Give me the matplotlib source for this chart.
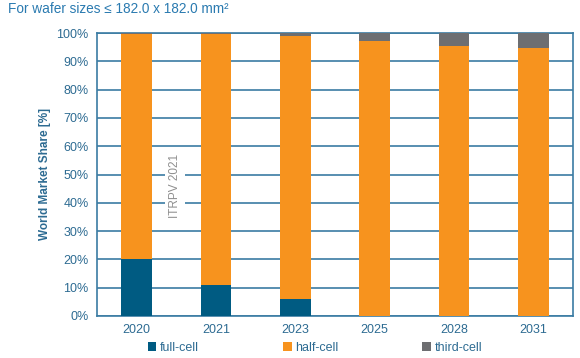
import matplotlib.pyplot as plt
import numpy as np

plt.rcParams['font.family'] = ['Liberation Sans', 'DejaVu Sans']

years = ['2020', '2021', '2023', '2025', '2028', '2031']
full_cell = [20.0, 11.0, 6.0, 0.0, 0.0, 0.0]
half_cell = [79.7, 88.7, 93.0, 97.0, 95.5, 94.6]
third_cell = [0.3, 0.3, 1.0, 3.0, 4.5, 5.4]

c_full = '#005b82'
c_half = '#f7931e'
c_third = '#6d6e71'
c_axis = '#3b7ca3'
c_text = '#2d6b92'

fig = plt.figure(figsize=(5.8, 3.58), dpi=100)
ax = fig.add_axes([97 / 580, 1 - 316 / 358, 476 / 580, 283 / 358])

x = np.arange(len(years))
w = 0.39
full = np.array(full_cell)
half = np.array(half_cell)
third = np.array(third_cell)
b1 = ax.bar(x, full, w, color=c_full, zorder=3, label='full-cell')
b2 = ax.bar(x, half, w, bottom=full, color=c_half, zorder=3, label='half-cell')
b3 = ax.bar(x, third, w, bottom=full + half, color=c_third, zorder=3, label='third-cell')

ax.set_xlim(-0.5, len(years) - 0.5)
ax.set_ylim(0, 100)
ax.set_yticks(np.arange(0, 101, 10))
ax.set_yticklabels([f'{v}%' for v in range(0, 101, 10)])
ax.set_xticks(x)
ax.set_xticklabels(years)
ax.yaxis.grid(True, color=c_axis, linewidth=1.2, zorder=0)
ax.tick_params(length=0, labelsize=9, labelcolor=c_text, pad=6)
for s in ax.spines.values():
    s.set_color(c_axis)
    s.set_linewidth(1.2)

ax.set_ylabel('World Market Share [%]', fontsize=8.5, fontweight='bold', color=c_text, labelpad=4)

ax.text(0.48, 46, 'ITRPV 2021', rotation=90, ha='center', va='center', fontsize=8.5,
        color='#8f8f8f', zorder=4,
        bbox=dict(facecolor='white', edgecolor='none', pad=3))

fig.text(8 / 580, 1 - 9 / 358, 'For wafer sizes ≤ 182.0 x 182.0 mm²', fontsize=9.8,
         color='#2a7ab0', va='center', ha='left')

fig.legend(handles=[b1, b2, b3], loc='center', bbox_to_anchor=(315 / 580, 1 - 348 / 358),
           ncol=3, frameon=False, fontsize=9, handlelength=0.7, handleheight=0.7,
           handletextpad=0.3, columnspacing=6.7, labelcolor=c_text)

fig.savefig('out.png', dpi=100)
